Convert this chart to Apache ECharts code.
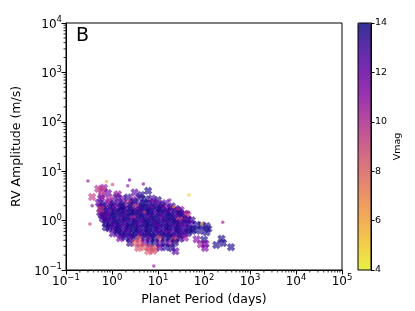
<!DOCTYPE html>
<html><head><meta charset="utf-8">
<script src="https://cdn.jsdelivr.net/npm/echarts@6/dist/echarts.min.js"></script>
<style>html,body{margin:0;padding:0;background:#fff}#c{width:415px;height:311px}</style>
</head><body><div id="c"></div>
<script>
// ---- data ----
const cbarTicks = [4, 6, 8, 10, 12, 14];

// large "X" markers: [period (days), RV amplitude (m/s), Vmag]
const bigMarkers = [
 [0.50,4.4,10],[0.67,4.6,11],[6.1,4.0,13.8],[0.6,4.1,9.5],
 [0.37,3.0,9.5],[0.82,3.6,12],[1.35,3.4,11],[3.1,3.7,12.5],[4.3,3.3,13.5],[0.6,3.2,10],
 [0.58,2.85,12],[0.9,2.7,10],[1.25,3.0,13],[1.7,2.75,12],[2.2,2.95,13.5],[2.85,2.65,11],[4.0,2.9,13.5],[7.4,2.8,13],[10,2.6,13.5],[5.5,2.7,13.8],
 [0.52,2.3,12.5],[0.67,2.15,13],[0.86,2.4,11],[1.1,2.2,13.5],[1.4,2.35,12.5],[1.8,2.1,13.5],[2.35,2.3,10],[3.0,2.4,13.8],[3.85,2.15,13],[5.0,2.3,13.8],[6.3,2.2,13.5],[8.2,2.35,12.5],[11,2.15,12],[14.8,2.25,12.5],
 [0.62,1.95,13.5],[1.0,2.0,13],[1.6,1.98,13.8],[2.6,2.05,13.5],[4.5,1.95,13.8],[7.5,2.0,13],[12.5,1.97,13.5],[20,1.95,13],
 [0.58,1.8,13],[0.74,1.7,12.5],[0.95,1.85,13.5],[1.22,1.75,11],[1.57,1.82,13.5],[2.0,1.7,12.5],[2.6,1.78,13.8],[3.3,1.85,9.5],[4.3,1.72,13.5],[5.5,1.8,13.8],[7.0,1.68,12.5],[9.0,1.83,13.8],[11.6,1.75,13.5],[14.8,1.7,11.5],[19,1.8,12.5],[24.5,1.72,13.5],[31,1.65,11],
 [0.66,1.6,13.8],[1.08,1.58,13.5],[1.75,1.62,13.8],[2.85,1.55,13.5],[3.8,1.6,13],[6.2,1.57,13.8],[10,1.62,13.5],[16,1.55,13.8],[27,1.58,13],
 [0.55,1.45,12],[0.7,1.38,13.5],[0.9,1.48,12.5],[1.15,1.4,13.5],[1.49,1.5,13.8],[1.92,1.38,12.5],[2.46,1.47,13.5],[3.16,1.4,13.8],[4.06,1.5,13],[5.2,1.42,13.8],[6.7,1.48,13.5],[8.6,1.38,12.5],[11,1.46,13.8],[14.2,1.4,13.5],[18.2,1.47,12.5],[23.4,1.38,13],[30,1.44,13.8],[38.6,1.35,11.5],[44,1.28,9],
 [0.6,1.27,13.5],[0.98,1.25,13.8],[1.6,1.28,13.5],[2.6,1.24,13.8],[4.3,1.27,13.5],[7.0,1.25,13.8],[11.5,1.28,13],[19,1.24,13.8],[31,1.27,13.5],
 [0.63,1.1,13],[0.81,1.16,12.5],[1.04,1.08,13.8],[1.35,1.15,13.5],[1.73,1.1,12.5],[2.2,1.17,13.8],[2.85,1.09,11],[3.7,1.14,13.8],[4.7,1.1,13.5],[6.1,1.16,12.5],[7.8,1.08,13.8],[10,1.15,13.5],[12.9,1.1,12],[16.6,1.14,13.8],[21,1.08,13.5],[27,1.15,12.5],[35,1.1,13.5],[45,1.05,12.5],[54,1.02,13.5],
 [0.72,1.0,13.8],[1.17,0.98,13.5],[1.95,1.01,13.8],[3.2,0.99,13.5],[5.3,1.0,13.8],[8.8,0.98,13.5],[14.5,1.01,13.8],[24,0.99,13.5],[30,1.0,8.5],[40,0.97,13],
 [0.74,0.88,13.5],[0.95,0.92,12.5],[1.22,0.86,13.5],[1.57,0.91,13.8],[2.0,0.87,12.5],[2.6,0.92,13.5],[3.3,0.86,13.8],[4.3,0.91,12.5],[5.5,0.87,13.8],[7.0,0.92,13.5],[9.0,0.86,12.5],[11.6,0.9,13.8],[14.8,0.87,12.5],[19,0.92,13.5],[24.5,0.86,13.8],[31,0.9,12.5],[40,0.87,13.5],[52,0.85,12.5],[70,0.82,13.8],[89,0.8,13.8],[114,0.78,13.5],
 [0.9,0.79,13.8],[1.4,0.8,13.5],[2.3,0.78,13.8],[3.8,0.81,13],[6.2,0.79,13.8],[10.2,0.8,13.5],[17,0.78,13.8],[28,0.8,13.5],
 [0.86,0.7,13.5],[1.1,0.73,12.5],[1.4,0.68,13.5],[1.8,0.72,12.5],[2.35,0.69,13.8],[3.0,0.73,13.5],[3.85,0.68,12.5],[5.0,0.72,13.8],[6.3,0.69,13.5],[8.2,0.73,13.8],[10.5,0.68,12.5],[13.5,0.72,13.5],[17.4,0.69,13.8],[22,0.73,12.5],[28.6,0.68,13.5],[36.7,0.72,12],[47,0.69,13.5],[60,0.66,13.8],[124,0.68,13.8],
 [1.25,0.63,13.8],[2.0,0.62,13.5],[3.3,0.64,13.8],[5.5,0.62,13.5],[9,0.64,13.8],[15,0.62,13.5],[25,0.63,13.8],[40,0.62,13.5],
 [1.04,0.55,12.5],[1.35,0.58,13.5],[1.73,0.54,13.8],[2.2,0.57,12.5],[2.85,0.55,13.8],[3.7,0.58,13.5],[4.7,0.54,12.5],[6.1,0.57,13.8],[7.8,0.55,13.5],[10,0.58,12.5],[12.9,0.54,13.8],[16.6,0.57,13.5],[21,0.55,12],[27,0.58,13.5],[35,0.54,12.5],[45,0.56,13.5],[56,0.62,13.8],[82,0.62,13.8],[113,0.58,13.8],
 [1.6,0.5,13.5],[2.6,0.49,13.8],[4.2,0.5,13],[7,0.49,13.8],[11.5,0.5,13.5],[19,0.49,13.8],[31,0.5,13.5],
 [1.49,0.44,11.5],[1.92,0.46,13.5],[2.46,0.43,12.5],[3.16,0.45,13.5],[4.06,0.43,8.5],[5.2,0.46,13.5],[6.7,0.43,12.5],[8.6,0.45,13.8],[11,0.43,9],[14.2,0.46,13.5],[18.2,0.43,13.8],[23.4,0.45,12.5],[30,0.43,13.5],[38.6,0.45,11],[69,0.42,11.5],[100,0.41,13.8],[240,0.43,13.8],[23,0.4,9],
 [2.46,0.35,13.5],[3.16,0.36,8.5],[4.06,0.34,8.7],[5.2,0.36,12],[6.7,0.34,13.5],[8.6,0.36,13.8],[11,0.34,12.5],[14.2,0.36,13.5],[18.2,0.34,11],[23.4,0.36,13.8],[85,0.33,10.5],[108,0.34,11.5],[185,0.32,13.8],[260,0.35,13.8],
 [3.7,0.28,8.7],[5.0,0.29,8.3],[6.7,0.28,9],[8.6,0.27,8.3],[11,0.285,12.5],[14.8,0.29,13.5],[20,0.275,13.8],[105,0.28,11.5],[386,0.29,13.8],
 [6.1,0.24,8.3],[7.8,0.245,8.7],[24,0.24,12.5],
 [0.57,1.7,9.5],[0.71,1.2,12.5],[0.73,0.73,13.5]
];

// small dot markers: [period (days), RV amplitude (m/s), Vmag]
const smallMarkers = [
 [0.30,6.3,11],[0.76,6.2,6],[1.03,5.4,9],[2.4,6.6,12],[4.8,5.5,11.5],[2.2,5.1,11],
 [47,3.3,5],[90,0.86,5.5],[256,0.93,10.5],[8.1,0.12,11],[0.33,0.85,9.5],[1.16,3.6,9],
 [0.37,2.0,11.5],[0.5,2.07,11.5],[7.3,2.6,11],[18,2.6,11.5],[22,1.9,6],[41,1.5,11],
 [27,1.7,10],[46,1.5,11.5],[3,1.2,10],[10,0.8,12],[5,1.5,9],[15,0.6,11]
];

// ---- build ----
const A = 0.8;
const plasmaR = ['#f0f921','#fcce25','#fca636','#f2844b','#e16462','#cc4778','#b12a90','#8f0da4','#6a00a8','#41049d','#0d0887']
  .map(h=>{const r=parseInt(h.slice(1,3),16),g=parseInt(h.slice(3,5),16),b=parseInt(h.slice(5,7),16);return `rgba(${r},${g},${b},${A})`;});

const FONT = 'DejaVu Sans';
function supLabel(v){
  const e = Math.round(Math.log10(v));
  return '{b|10}{s|' + (e<0 ? '\u2212'+(-e) : e) + '}';
}
const rich = {
  b:{fontSize:12, fontFamily:FONT, color:'#000', verticalAlign:'bottom', lineHeight:15},
  s:{fontSize:8.5, fontFamily:FONT, color:'#000', verticalAlign:'top', lineHeight:10}
};

const xPath = 'path://M0,3 L3,0 L5,2 L7,0 L10,3 L8,5 L10,7 L7,10 L5,8 L3,10 L0,7 L2,5 Z';

const chart = echarts.init(document.getElementById('c'), null, {renderer:'canvas'});
chart.setOption({
  animation:false,
  textStyle:{fontFamily:FONT},
  title:{text:'B', left:76, top:27, padding:0, textStyle:{fontSize:19, fontWeight:'normal', color:'#000', fontFamily:FONT}},
  grid:[
    {left:66, top:23, width:276, height:247, show:true, borderColor:'#000', borderWidth:1, backgroundColor:'transparent'},
    {left:358, top:23, width:13, height:247, show:true, borderColor:'#000', borderWidth:1, z:10, backgroundColor:'transparent'}
  ],
  xAxis:[
    {type:'log', logBase:10, min:0.1, max:100000, gridIndex:0,
     axisLine:{show:true, lineStyle:{color:'#000', width:1}},
     axisTick:{show:true, inside:false, length:4.5, lineStyle:{color:'#000'}},
     splitLine:{show:false},
     axisLabel:{formatter:supLabel, rich:rich, margin:3, showMinLabel:true, showMaxLabel:true},
     name:'Planet Period (days)', nameLocation:'middle', nameGap:21,
     nameTextStyle:{fontSize:12.5, color:'#000', fontFamily:FONT}},
    {type:'value', gridIndex:1, show:false, min:0, max:1}
  ],
  yAxis:[
    {type:'log', logBase:10, min:0.1, max:10000, gridIndex:0,
     axisLine:{show:true, lineStyle:{color:'#000', width:1}},
     axisTick:{show:true, inside:false, length:4.5, lineStyle:{color:'#000'}},
     splitLine:{show:false},
     axisLabel:{formatter:supLabel, rich:rich, margin:4, showMinLabel:true, showMaxLabel:true},
     name:'RV Amplitude (m/s)', nameLocation:'middle', nameGap:32,
     nameTextStyle:{fontSize:12.5, color:'#000', fontFamily:FONT}},
    {type:'value', gridIndex:1, min:cbarTicks[0], max:cbarTicks[cbarTicks.length-1], interval:2, position:'right',
     axisLine:{show:true, onZero:false, lineStyle:{color:'#000', width:1}},
     axisTick:{show:true, inside:false, length:3.5, lineStyle:{color:'#000'}},
     splitLine:{show:false},
     axisLabel:{show:true, fontSize:9.5, color:'#000', margin:4, fontFamily:FONT, showMinLabel:true, showMaxLabel:true},
     name:'Vmag', nameLocation:'middle', nameGap:22, nameRotate:90,
     nameTextStyle:{fontSize:9.5, color:'#000', fontFamily:FONT}}
  ],
  visualMap:{
    type:'continuous', min:4, max:14, dimension:2, seriesIndex:[0,1],
    inRange:{color:plasmaR}, calculable:false, hoverLink:false,
    left:358, top:23, itemWidth:13, itemHeight:247, padding:0,
    textStyle:{color:'rgba(0,0,0,0)'}, orient:'vertical'
  },
  series:[
    {type:'scatter', xAxisIndex:0, yAxisIndex:0, data:bigMarkers, symbol:xPath, symbolSize:8.5, silent:true},
    {type:'scatter', xAxisIndex:0, yAxisIndex:0, data:smallMarkers, symbol:'circle', symbolSize:3.5, silent:true},
    {type:'custom', xAxisIndex:0, yAxisIndex:0, data:[[1,1]], silent:true, clip:false, z:5,
     renderItem:function(params, api){
       const children=[];
       for(let e=-1;e<5;e++){for(let m=2;m<10;m++){
         const v=m*Math.pow(10,e); const p=api.coord([v,0.1]);
         children.push({type:'line',shape:{x1:p[0],y1:p[1],x2:p[0],y2:p[1]+2.5},style:{stroke:'#000',lineWidth:0.8}});
       }}
       for(let e=-1;e<4;e++){for(let m=2;m<10;m++){
         const v=m*Math.pow(10,e); const p=api.coord([0.1,v]);
         children.push({type:'line',shape:{x1:p[0]-2.5,y1:p[1],x2:p[0],y2:p[1]},style:{stroke:'#000',lineWidth:0.8}});
       }}
       return {type:'group', children:children};
     }},
    {type:'scatter', xAxisIndex:1, yAxisIndex:1, data:[[0.5,9]], symbolSize:0, silent:true, itemStyle:{opacity:0}}
  ]
});
</script></body></html>
